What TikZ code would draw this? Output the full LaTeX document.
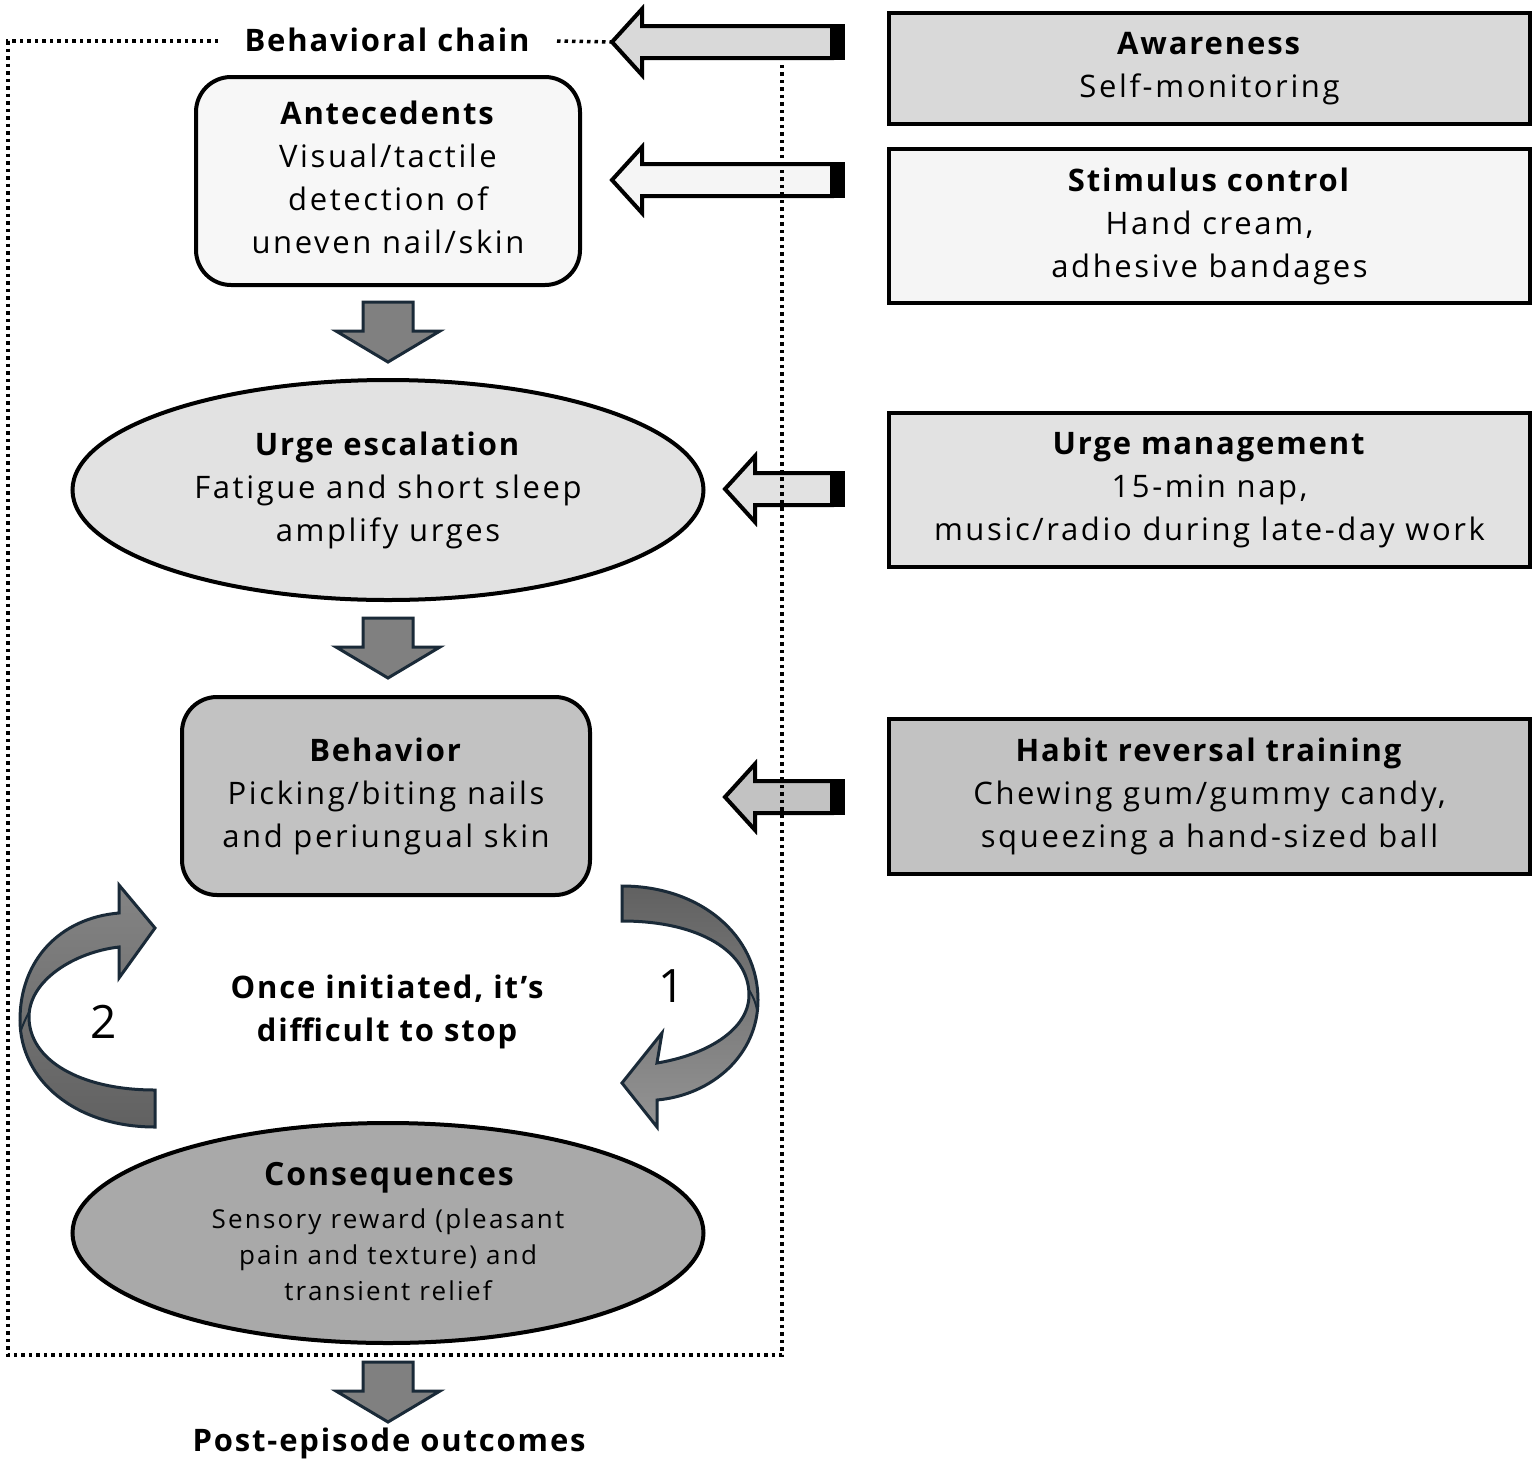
\documentclass[tikz,border=0pt]{standalone}
\usepackage{fontspec}
\setmainfont{Open Sans}[LetterSpace=8.5, BoldFeatures={LetterSpace=6}]
\usetikzlibrary{shapes.geometric}
\definecolor{navy}{HTML}{1A2A38}
\definecolor{agray}{HTML}{808080}
\definecolor{fAnte}{HTML}{F7F7F7}
\definecolor{fUrge}{HTML}{E2E2E2}
\definecolor{fBeh}{HTML}{C2C2C2}
\definecolor{fCons}{HTML}{A9A9A9}
\definecolor{fAware}{HTML}{D9D9D9}
\definecolor{fStim}{HTML}{F5F5F5}
\newcommand\blockarrowL[4]{% name, tip x, y, fill
  \coordinate (#1) at (#2,#3);
  \draw[line width=4, fill=#4, line join=miter] (#1) -- ++(30,-33) -- ++(0,17) -- (832,#3-16) -- (832,#3+16) -- (#2+30,#3+16) -- ++(0,17) -- cycle;
  \fill[black] (831,#3-18) rectangle (845,#3+18);
}
\newcommand\downarrowblk[2]{% name, top y
  \coordinate (#1) at (388,#2);
  \draw[fill=agray, draw=navy, line width=3, line join=miter] (#1) ++(-25,0) -- ++(50,0) -- ++(0,29) -- ++(27,0) -- (388,#2+60) -- (336,#2+29) -- (363,#2+29) -- cycle;
}
\begin{document}
\begin{tikzpicture}[x=1pt,y=-1pt,
  txt/.style={font=\fontsize{31}{43}\selectfont, align=center, text=black},
  rbox/.style={draw=black, line width=3.5, minimum width=641, minimum height=#1, inner sep=0, txt},
  chainbox/.style={draw=black, line width=4, rounded corners=35, inner sep=0, txt},
  chainell/.style={draw=black, line width=4, ellipse, minimum width=631, minimum height=220, inner sep=0, txt},
  frameline/.style={line width=3.5, dash pattern=on 3.5pt off 4pt},
  curvearrow/.style={draw=navy, line width=3, line join=miter},
  numlbl/.style={font=\fontsize{46}{46}\selectfont},
]
\useasboundingbox (0,0) rectangle (1535,1465);
\fill[white] (0,0) rectangle (1535,1465);

% chain elements
\node[chainbox, fill=fAnte, minimum width=384, minimum height=208] (ante) at (388,181) {};
\node[txt] (anteT) at (388,177.5)
  {\textbf{Antecedents}\\Visual/tactile\\detection of\\uneven nail/skin};
\node[chainell, fill=fUrge] (urge) at (388,490)
  {\textbf{Urge escalation}\\Fatigue and short sleep\\amplify urges};
\node[chainbox, fill=fBeh, minimum width=408, minimum height=198] (beh) at (386,796)
  {\textbf{Behavior}\\Picking/biting nails\\and periungual skin};
\node[chainell, fill=fCons] (cons) at (388,1233) {};
\node[txt, font=\fontsize{32}{43}\selectfont] (consT) at (390,1178) {\textbf{Consequences}};
\node[txt, font=\fontsize{26}{36}\selectfont] (consB) at (388,1255)
  {Sensory reward (pleasant\\pain and texture) and\\transient relief};

% down arrows
\downarrowblk{d1}{302}
\downarrowblk{d2}{618}
\downarrowblk{d3}{1362}

% right boxes
\node[rbox=111, fill=fAware] (aware) at (1209.5,68.5) {\textbf{Awareness}\\Self-monitoring};
\node[rbox=154, fill=fStim] (stim) at (1209.5,226) {\textbf{Stimulus control}\\Hand cream,\\adhesive bandages};
\node[rbox=154, fill=fUrge] (urgm) at (1209.5,490) {\textbf{Urge management}\\15-min nap,\\music/radio during late-day work};
\node[rbox=155, fill=fBeh] (habit) at (1209.5,796.5) {\textbf{Habit reversal training}\\Chewing gum/gummy candy,\\squeezing a hand-sized ball};

% block arrows
\blockarrowL{aA}{612}{42}{fAware}
\blockarrowL{aB}{612}{180}{fStim}
\blockarrowL{aC}{725}{489}{fUrge}
\blockarrowL{aD}{725}{797}{fBeh}

% curved arrows
\path[curvearrow, top color=black!62, bottom color=black!42]
  (622,886) .. controls (700,886) and (758,935) .. (758,1000)
  .. controls (758,1055) and (712,1095) .. (657,1100)
  -- (657,1127) -- (622,1083) -- (662,1033) -- (657,1063)
  .. controls (706,1055) and (749,1030) .. (749,995)
  .. controls (749,952) and (700,921) .. (622,921) -- cycle;
\draw[navy, line width=2] (749,990) .. controls (754,998) and (756,1004) .. (757,1010);
\path[curvearrow, top color=black!48, bottom color=black!62]
  (155,1127) .. controls (75,1127) and (20,1080) .. (20,1020)
  .. controls (20,960) and (60,918) .. (119,913)
  -- (119,885) -- (155,928) -- (119,978) -- (119,947)
  .. controls (75,952) and (29,980) .. (29,1017)
  .. controls (29,1060) and (80,1090) .. (155,1090) -- cycle;
\draw[navy, line width=2] (21,1030) .. controls (24,1022) and (27,1016) .. (29,1012);

\node[numlbl] (n1) at (672,986) {1};
\node[numlbl] (n2) at (104,1022) {2};
\node[txt] (loop) at (388,1012) {\textbf{Once initiated, it’s}\\\textbf{difficult to stop}};

% labels
\node[txt] (chain) at (388,40) {\textbf{Behavioral chain}};
\node[txt] (post) at (390,1443) {\textbf{Post-episode outcomes}};

% dotted frame
\draw[frameline] (218,41) -- (8,41) -- (8,1355) -- (782,1355) -- (782,62);
\draw[frameline] (557,41) -- (aA);
\end{tikzpicture}
\end{document}
